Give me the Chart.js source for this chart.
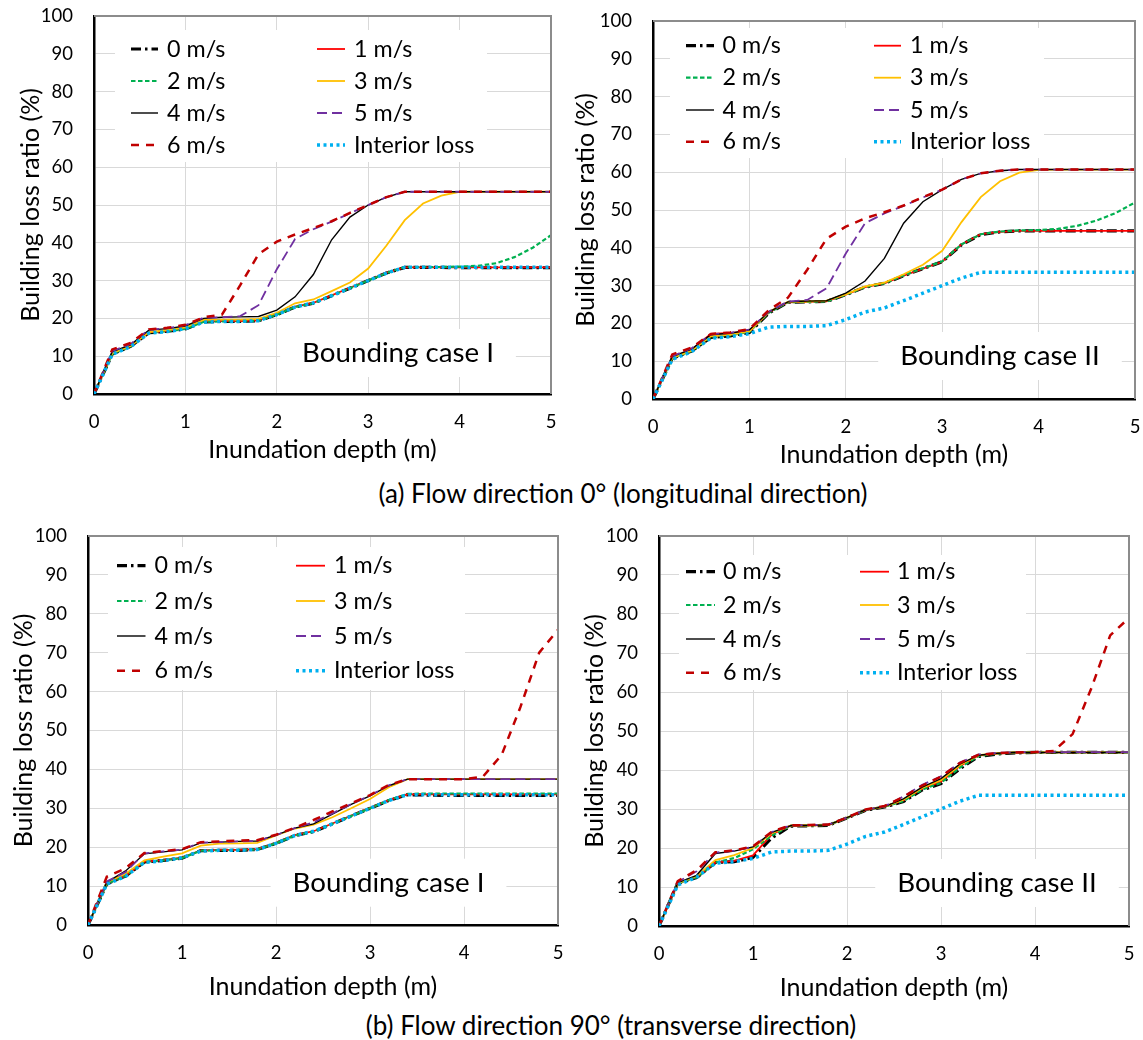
<!DOCTYPE html>
<html><head><meta charset="utf-8">
<script src="https://cdn.jsdelivr.net/npm/chart.js@4.4.1/dist/chart.umd.min.js"></script>
<style>
html,body{margin:0;padding:0;background:#fff;}
body{width:1143px;height:1040px;overflow:hidden;position:relative;font-family:Lato, sans-serif;}
canvas{position:absolute;}
.cap{position:absolute;font-size:26px;color:#000;white-space:nowrap;transform:translate(-50%,-50%);line-height:1;}
</style></head><body>
<canvas id="c1"></canvas>
<canvas id="c2"></canvas>
<canvas id="c3"></canvas>
<canvas id="c4"></canvas>
<div class="cap" style="left:623px;top:493px">(a) Flow direction 0° (longitudinal direction)</div>
<div class="cap" style="left:611px;top:1025px">(b) Flow direction 90° (transverse direction)</div>
<script>
// ---------------- data ----------------
const depth = [0,0.2,0.4,0.6,0.8,1,1.2,1.4,1.6,1.8,2,2.2,2.4,2.6,2.8,3,3.2,3.4,3.6,3.8,4,4.2,4.4,4.6,4.8,5];
const seriesNames = ['0 m/s','1 m/s','2 m/s','3 m/s','4 m/s','5 m/s','6 m/s','Interior loss'];
const interiorLoss = [0,10.5,12.5,16.1,16.5,17.3,19,19.2,19.2,19.4,21,23,24.1,26,28,30,32,33.5,33.5,33.5,33.5,33.5,33.5,33.5,33.5,33.5];

// (a) 0 deg, bounding case I
const a1_0ms = [0,10.6,12.6,16.2,16.6,17.2,19.1,19.2,19.2,19.4,21,23,24,26,28,30,32,33.5,33.5,33.5,33.4,33.4,33.4,33.4,33.4,33.4];
const a1_1ms = [0,10.8,12.7,16.3,16.7,17.4,19.2,19.3,19.3,19.5,21.1,23.1,24.1,26.1,28.1,30.1,32.1,33.5,33.5,33.5,33.5,33.5,33.5,33.5,33.5,33.5];
const a1_2ms = [0,10.6,12.6,16.2,16.6,17.2,19.1,19.2,19.2,19.4,21,23,24,26,28,30,32,33.6,33.6,33.6,33.7,33.9,34.6,36.2,38.7,42];
const a1_3ms = [0,10.8,12.7,16.4,16.9,17.6,19.6,19.7,19.7,19.9,21.5,24,25,27.2,29.5,33.2,39.3,46,50.4,52.5,53.5,53.5,53.5,53.5,53.5,53.5];
const a1_4ms = [0,11.2,13,16.9,17.3,18,20,20.3,20.4,20.5,22.2,25.7,31.6,40.8,46.8,50,52.1,53.5,53.5,53.5,53.5,53.5,53.5,53.5,53.5,53.5];
const a1_5ms = [0,11.4,13.2,17,17.4,18.2,20.2,20.3,20.6,23.5,33,41,43.6,45.6,47.8,50,52.1,53.5,53.5,53.5,53.5,53.5,53.5,53.5,53.5,53.5];
const a1_6ms = [0,11.8,13.5,17.1,17.5,18.3,20.3,21,28.8,37,40.3,42.2,43.9,45.7,47.9,50,52.1,53.5,53.5,53.5,53.5,53.5,53.5,53.5,53.5,53.5];

// (a) 0 deg, bounding case II
const a2_0ms = [0,10.8,12.7,16.3,16.7,17.6,22.7,25.6,25.7,25.8,27.6,29.6,30.6,32.6,34.5,36.3,40.8,43.5,44.2,44.5,44.5,44.5,44.5,44.5,44.5,44.5];
const a2_1ms = [0,11,13,17.2,17.5,17.8,22.9,25.6,25.7,25.8,27.6,29.6,30.6,32.6,34.5,36.3,40.9,43.6,44.2,44.5,44.5,44.5,44.5,44.5,44.5,44.5];
const a2_2ms = [0,10.8,12.7,16.3,16.8,17.8,22.8,25.6,25.7,25.8,27.6,29.6,30.6,32.7,34.6,36.4,40.9,43.6,44.3,44.6,44.7,45,45.8,47.2,49.2,52];
const a2_3ms = [0,10.9,12.8,16.6,17,17.9,23,25.7,25.8,26,27.7,29.8,30.8,33,35.5,39.2,46.8,53.4,57.6,59.9,60.6,60.7,60.7,60.7,60.7,60.7];
const a2_4ms = [0,11.2,13.2,17,17.4,18.3,23,25.7,25.9,26,28,31.2,37.2,46.5,52.2,55.4,58.1,59.7,60.4,60.7,60.7,60.7,60.7,60.7,60.7,60.7];
const a2_5ms = [0,11.3,13.4,17.1,17.5,18.4,23.1,25.8,26.2,29.3,38.5,46.5,49.1,51.1,53.3,55.4,58.1,59.7,60.4,60.7,60.7,60.7,60.7,60.7,60.7,60.7];
const a2_6ms = [0,11.8,13.6,17.2,17.6,18.5,23.5,26.8,34.2,42.4,45.6,47.8,49.4,51.2,53.4,55.4,58.1,59.7,60.4,60.7,60.7,60.7,60.7,60.7,60.7,60.7];

// (b) 90 deg, bounding case I
const b1_0ms = [0,10.6,12.6,16.2,16.6,17.2,19.1,19.2,19.2,19.4,21,23,24,26,28,30,32,33.5,33.4,33.3,33.3,33.3,33.3,33.3,33.3,33.3];
const b1_1ms = [0,10.7,12.7,16.3,16.7,17.3,19.2,19.3,19.3,19.5,21.1,23.1,24.1,26.1,28.1,30.1,32.1,33.6,33.6,33.6,33.6,33.6,33.6,33.6,33.6,33.6];
const b1_2ms = [0,10.6,12.6,16.2,16.6,17.2,19.1,19.2,19.3,19.4,21,23,24,26,28,30,32.1,33.7,33.8,33.8,33.8,33.8,33.8,33.8,33.8,33.8];
const b1_3ms = [0,11,13.2,16.6,17.6,18.4,20.4,20.9,21,21.1,23,24.8,25.8,27.7,30,32.4,35.4,37.5,37.5,37.5,37.5,37.5,37.5,37.5,37.5,37.5];
const b1_4ms = [0,11,13.9,18.3,18.8,19.3,21.1,21.3,21.5,21.6,23.1,24.9,26,28.5,31,33.2,35.8,37.5,37.5,37.5,37.5,37.5,37.5,37.5,37.5,37.5];
const b1_5ms = [0,11.2,13.6,18.4,18.9,19.4,21.2,21.3,21.5,21.6,23.1,24.9,26.4,28.7,31.1,33.3,35.9,37.5,37.5,37.5,37.5,37.5,37.5,37.5,37.5,37.5];
const b1_6ms = [0,12.4,14.6,18.5,19,19.5,21.3,21.5,21.7,21.8,23.2,25,27,29.2,31.3,33.4,36,37.5,37.5,37.5,37.5,38.1,43.7,56,70,75.9];

// (b) 90 deg, bounding case II
const b2_0ms = [0,11,12.4,16.3,16.5,17.6,22.6,25.6,25.7,25.8,27.7,29.7,30.5,31.9,34.9,36.5,40.3,43.5,44.1,44.4,44.5,44.5,44.5,44.5,44.5,44.5];
const b2_1ms = [0,11,12.5,16.3,16.7,18.1,23.5,25.7,25.8,25.9,27.7,29.7,30.6,32.2,35.2,37,41,43.7,44.2,44.5,44.5,44.5,44.5,44.5,44.5,44.5];
const b2_2ms = [0,11,12.5,16.3,17.4,19.7,23.2,25.7,25.8,25.9,27.7,29.7,30.6,32,35,36.7,40.6,43.6,44.2,44.5,44.5,44.5,44.5,44.5,44.5,44.5];
const b2_3ms = [0,11,12.8,16.9,18.2,20,23.8,25.7,25.8,25.9,27.8,29.8,30.6,32.4,35.4,37.4,41.2,43.8,44.3,44.5,44.5,44.5,44.5,44.5,44.5,44.5];
const b2_4ms = [0,11.1,13,18.6,19.2,20.3,24,25.7,25.8,25.9,27.8,29.8,30.6,32.6,35.6,37.8,41.5,43.8,44.3,44.5,44.5,44.5,44.5,44.5,44.5,44.5];
const b2_5ms = [0,11.3,14,18.8,19.3,20.3,24.1,25.8,25.9,26,27.8,29.8,30.7,33.2,36.2,38.4,41.9,44,44.4,44.6,44.6,44.6,44.6,44.6,44.6,44.6];
const b2_6ms = [0,11.5,14.3,18.9,19.4,20.4,24.2,25.8,25.9,26,27.8,29.9,30.8,33.1,36,38.3,41.8,43.9,44.3,44.5,44.6,44.9,49.2,61,74.5,79];

const caseLabels = ['Bounding case I','Bounding case II','Bounding case I','Bounding case II'];
const xTitle = 'Inundation depth (m)';
const yTitle = 'Building loss ratio (%)';

// ---------------- styles ----------------
const seriesStyle = [
  {c:'#000000', w:3.2, d:[10,4,2.5,4]},
  {c:'#FF0000', w:1.8, d:[]},
  {c:'#00B050', w:2.2, d:[4.5,2.5]},
  {c:'#FFC000', w:1.8, d:[]},
  {c:'#000000', w:1.4, d:[]},
  {c:'#7030A0', w:1.8, d:[10,5]},
  {c:'#C00000', w:2.5, d:[8,7]},
  {c:'#00B0F0', w:3.5, d:[3,3.5]}
];

const panelSeries = [
  [a1_0ms,a1_1ms,a1_2ms,a1_3ms,a1_4ms,a1_5ms,a1_6ms,interiorLoss],
  [a2_0ms,a2_1ms,a2_2ms,a2_3ms,a2_4ms,a2_5ms,a2_6ms,interiorLoss],
  [b1_0ms,b1_1ms,b1_2ms,b1_3ms,b1_4ms,b1_5ms,b1_6ms,interiorLoss],
  [b2_0ms,b2_1ms,b2_2ms,b2_3ms,b2_4ms,b2_5ms,b2_6ms,interiorLoss]
];

// layout: plot area (L,T,R,B), canvas origin, title offsets, legend geometry (relative to plot area)
const layouts = [
  {id:'c1', cx:0,   cy:0,   L:94,  T:16,  R:551,  B:394, ytPad:16, xtOff:56,
   cols:[[37,64,73],[223,251,260]], rows:[33,65,97,129], box:[21,14,393,146], lab:[304,337]},
  {id:'c2', cx:570, cy:5,   L:653, T:21,  R:1135, B:399, ytPad:0.5, xtOff:56,
   cols:[[33,61,69.5],[221,248,257]], rows:[24.7,56.7,89,120.7], box:[17,7,391,137], lab:[347,335]},
  {id:'c3', cx:0,   cy:520, L:88,  T:536, R:558,  B:925, ytPad:9, xtOff:62,
   cols:[[29,57.5,66.5],[208,237,246]], rows:[29.7,65,100,134.7], box:[20,11,377,154], lab:[300.5,346.7]},
  {id:'c4', cx:570, cy:520, L:659, T:536, R:1129, B:926, ytPad:10, xtOff:62,
   cols:[[27,56,64],[201,230,238]], rows:[35.7,69,103,136.7], box:[20,19,367,154], lab:[338,347]}
];

const FONT = 'Lato';
const TICK_SIZE = 18.5, TITLE_SIZE = 25, LEGEND_SIZE = 23.3, LABEL_SIZE = 27.7;

const decorPlugin = {
  id: 'decor',
  beforeDatasetsDraw(chart, args, o) {
    const ctx = chart.ctx, a = chart.chartArea, b = o.box;
    ctx.save();
    ctx.fillStyle = '#ffffff';
    ctx.fillRect(a.left + b[0], a.top + b[1], b[2] - b[0], b[3] - b[1]);
    ctx.font = LABEL_SIZE + 'px ' + FONT;
    const w = ctx.measureText(o.label).width;
    ctx.fillRect(a.left + o.lab[0] - w / 2 - 22, a.top + o.lab[1] - 24, w + 44, 48);
    ctx.restore();
  },
  afterDatasetsDraw(chart, args, o) {
    const ctx = chart.ctx, a = chart.chartArea;
    ctx.save();
    ctx.strokeStyle = '#8c8c8c'; ctx.lineWidth = 2; ctx.setLineDash([]);
    ctx.beginPath();
    ctx.moveTo(a.left, a.top); ctx.lineTo(a.right, a.top); ctx.lineTo(a.right, a.bottom);
    ctx.stroke();
    chart.data.datasets.forEach((ds, i) => {
      const c = o.cols[i % 2];
      const y = a.top + o.rows[Math.floor(i / 2)];
      ctx.strokeStyle = ds.borderColor; ctx.lineWidth = ds.borderWidth;
      ctx.setLineDash(ds.borderDash || []); ctx.lineCap = 'butt';
      ctx.beginPath(); ctx.moveTo(a.left + c[0], y); ctx.lineTo(a.left + c[1], y); ctx.stroke();
      ctx.setLineDash([]);
      ctx.fillStyle = '#000'; ctx.font = LEGEND_SIZE + 'px ' + FONT;
      ctx.textBaseline = 'middle'; ctx.textAlign = 'left';
      ctx.fillText(ds.label, a.left + c[2], y);
    });
    ctx.font = LABEL_SIZE + 'px ' + FONT; ctx.textAlign = 'center'; ctx.textBaseline = 'middle';
    ctx.fillStyle = '#000';
    ctx.fillText(o.label, a.left + o.lab[0], a.top + o.lab[1]);
    ctx.restore();
  }
};

Chart.defaults.font.family = FONT;
Chart.defaults.color = '#000';

layouts.forEach((p, k) => {
  const cv = document.getElementById(p.id);
  const padTop = p.T - p.cy;
  const wy = p.L - p.cx;
  const hx = p.xtOff + TITLE_SIZE * 1.2 / 2;
  const width = Math.min(1143 - p.cx, p.R + 10 - p.cx);
  const padRight = width - (p.R - p.cx);
  const height = Math.round(p.B + hx - p.cy);
  cv.width = width; cv.height = height;
  cv.style.left = p.cx + 'px'; cv.style.top = p.cy + 'px';
  cv.style.width = width + 'px'; cv.style.height = height + 'px';

  const datasets = panelSeries[k].map((vals, i) => ({
    label: seriesNames[i],
    data: depth.map((x, j) => ({x: x, y: vals[j]})),
    borderColor: seriesStyle[i].c,
    backgroundColor: seriesStyle[i].c,
    borderWidth: seriesStyle[i].w,
    borderDash: seriesStyle[i].d,
    pointRadius: 0,
    tension: 0,
    fill: false,
    order: 8 - i
  }));

  new Chart(cv, {
    type: 'line',
    data: { datasets: datasets },
    plugins: [decorPlugin],
    options: {
      responsive: false,
      animation: false,
      devicePixelRatio: 1,
      layout: { padding: { left: 0, top: padTop, right: padRight, bottom: 0 } },
      plugins: {
        legend: { display: false },
        tooltip: { enabled: false },
        decor: { cols: p.cols, rows: p.rows, box: p.box, lab: p.lab, label: caseLabels[k] }
      },
      scales: {
        x: {
          type: 'linear', min: 0, max: 5,
          ticks: { stepSize: 1, padding: 17, font: { size: TICK_SIZE }, color: '#000', maxRotation: 0 },
          grid: { color: '#d9d9d9', lineWidth: 1, drawTicks: false },
          border: { color: '#000', width: 2.5 },
          title: { display: true, text: xTitle, font: { size: TITLE_SIZE }, color: '#000', padding: { top: 0, bottom: 0 } },
          afterFit: (s) => { s.height = height - (p.B - p.cy); s.paddingLeft = 0; s.paddingRight = 0; }
        },
        y: {
          min: 0, max: 100,
          ticks: { stepSize: 10, padding: 21, font: { size: TICK_SIZE }, color: '#000' },
          grid: { color: '#d9d9d9', lineWidth: 1, drawTicks: false },
          border: { color: '#000', width: 2.5 },
          title: { display: true, text: yTitle, font: { size: TITLE_SIZE }, color: '#000', padding: { top: p.ytPad, bottom: 0 } },
          afterFit: (s) => { s.width = wy; s.paddingTop = 0; s.paddingBottom = 0; }
        }
      }
    }
  });
});
</script>
</body></html>
